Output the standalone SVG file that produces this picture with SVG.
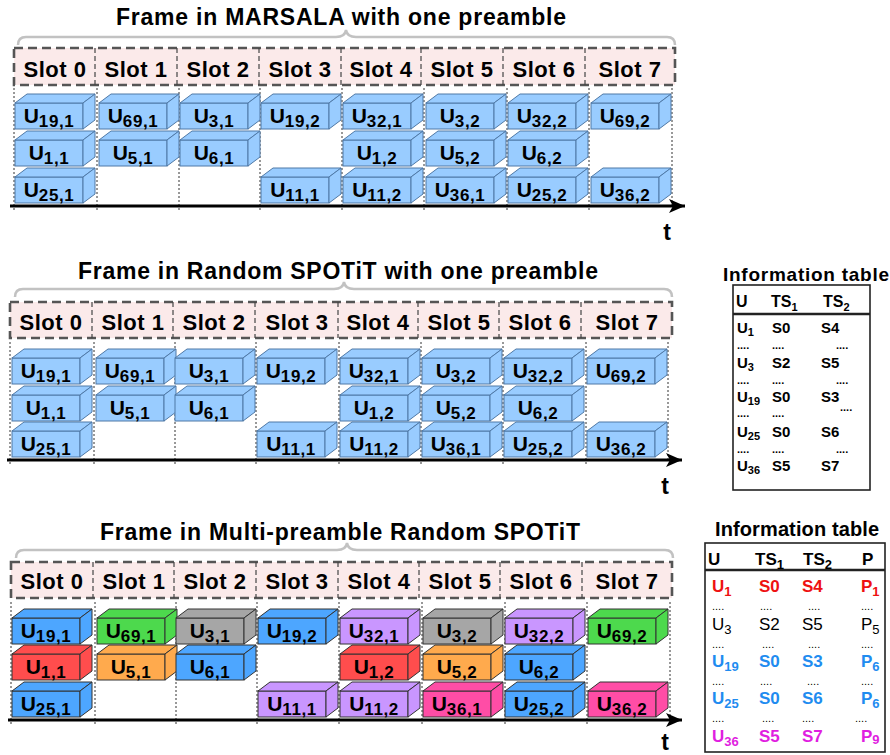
<svg xmlns="http://www.w3.org/2000/svg" xmlns:xlink="http://www.w3.org/1999/xlink" width="890" height="755" viewBox="0 0 890 755">
<style>
text{font-family:"Liberation Sans",Arial,sans-serif;font-weight:bold;fill:#000}
.title{font-size:23px;text-anchor:middle}
.slot{font-size:22px;text-anchor:middle;letter-spacing:0.5px}
.lbl{font-size:21px;text-anchor:middle}
.sb{font-size:17px;letter-spacing:0.6px}
.t{font-size:23px;text-anchor:middle}
.brace{fill:none;stroke:#c2c2c2;stroke-width:2.5}
.hdr{fill:#fbeaea;stroke:#555;stroke-width:2.6;stroke-dasharray:9 5}
.div{stroke:#444;stroke-width:1.2;stroke-dasharray:5 3}
.dot{stroke:#333;stroke-width:1;stroke-dasharray:2 2}
.axis{stroke:#000;stroke-width:3;marker-end:url(#ah)}
.lb{fill:#99ccff;stroke:#4f79a6;stroke-width:1}
.b{fill:#4da6ff;stroke:#333;stroke-width:1}
.g{fill:#4dd94d;stroke:#333;stroke-width:1}
.gr{fill:#a6a6a6;stroke:#333;stroke-width:1}
.r{fill:#ff4d4d;stroke:#333;stroke-width:1}
.o{fill:#ffaa4d;stroke:#333;stroke-width:1}
.p{fill:#c996ff;stroke:#333;stroke-width:1}
.pk{fill:#ff4da6;stroke:#333;stroke-width:1}
.tt{font-size:19px;text-anchor:middle}
.tbox{fill:#fff;stroke:#222;stroke-width:1.6}
.tsep{stroke:#222;stroke-width:2.5}
.t1{font-size:15px}
.t1s{font-size:11px}
.t2{font-size:17px}
.t2s{font-size:13px}
.dots{font-size:11px}
.red{fill:#ee1111}
.blu{fill:#1f8cf0}
.mag{fill:#e01ee0}
.reg{font-weight:normal}
</style>
<defs>
<marker id="ah" markerUnits="userSpaceOnUse" markerWidth="18" markerHeight="16" refX="16" refY="8" orient="auto"><path d="M0,1 L16,8 L0,15 L4,8 z" fill="#000"/></marker>
<g id="cube"><rect x="0" y="0" width="68" height="26"/><polygon points="0,0 12,-9 80,-9 68,0"/><polygon points="68,0 80,-9 80,17 68,26"/></g>
</defs>

<!-- Frame A -->
<g id="frameA">
<text class="title" x="341" y="25" textLength="450" lengthAdjust="spacing">Frame in MARSALA with one preamble</text>
<path class="brace" d="M18,45 Q18,37 26,37 L336,37 Q345,37 346,30 Q347,37 356,37 L667,37 Q675,37 675,45"/>
<rect class="hdr" x="14" y="48" width="661" height="37"/>
<g>
<line class="div" x1="95" y1="48" x2="95" y2="85"/><line class="div" x1="177" y1="48" x2="177" y2="85"/><line class="div" x1="259" y1="48" x2="259" y2="85"/><line class="div" x1="341" y1="48" x2="341" y2="85"/><line class="div" x1="421" y1="48" x2="421" y2="85"/><line class="div" x1="503" y1="48" x2="503" y2="85"/><line class="div" x1="585" y1="48" x2="585" y2="85"/>
</g>
<text class="slot" x="55" y="77">Slot 0</text><text class="slot" x="136" y="77">Slot 1</text><text class="slot" x="218" y="77">Slot 2</text><text class="slot" x="300" y="77">Slot 3</text><text class="slot" x="381" y="77">Slot 4</text><text class="slot" x="462" y="77">Slot 5</text><text class="slot" x="544" y="77">Slot 6</text><text class="slot" x="630" y="77">Slot 7</text>
<g>
<line class="dot" x1="14" y1="88" x2="14" y2="210"/><line class="dot" x1="97" y1="88" x2="97" y2="210"/><line class="dot" x1="179" y1="88" x2="179" y2="210"/><line class="dot" x1="260" y1="88" x2="260" y2="210"/><line class="dot" x1="342" y1="88" x2="342" y2="210"/><line class="dot" x1="424" y1="88" x2="424" y2="210"/><line class="dot" x1="507" y1="88" x2="507" y2="210"/><line class="dot" x1="589" y1="88" x2="589" y2="210"/><line class="dot" x1="672" y1="88" x2="672" y2="206"/>
</g>
</g>
<g id="connectorsA"><line class="axis" x1="10" y1="206" x2="685" y2="206"/></g>
<text class="t" x="667" y="240">t</text>

<g id="a-19-1"><use xlink:href="#cube" href="#cube" class="lb" x="15" y="103"/><text class="lbl" x="49" y="123">U<tspan class="sb" dy="3.5">19,1</tspan></text></g>
<g id="a-69-1"><use xlink:href="#cube" href="#cube" class="lb" x="99" y="103"/><text class="lbl" x="133" y="123">U<tspan class="sb" dy="3.5">69,1</tspan></text></g>
<g id="a-3-1"><use xlink:href="#cube" href="#cube" class="lb" x="180" y="103"/><text class="lbl" x="214" y="123">U<tspan class="sb" dy="3.5">3,1</tspan></text></g>
<g id="a-19-2"><use xlink:href="#cube" href="#cube" class="lb" x="261" y="103"/><text class="lbl" x="295" y="123">U<tspan class="sb" dy="3.5">19,2</tspan></text></g>
<g id="a-32-1"><use xlink:href="#cube" href="#cube" class="lb" x="343" y="103"/><text class="lbl" x="377" y="123">U<tspan class="sb" dy="3.5">32,1</tspan></text></g>
<g id="a-3-2"><use xlink:href="#cube" href="#cube" class="lb" x="426" y="103"/><text class="lbl" x="460" y="123">U<tspan class="sb" dy="3.5">3,2</tspan></text></g>
<g id="a-32-2"><use xlink:href="#cube" href="#cube" class="lb" x="508" y="103"/><text class="lbl" x="542" y="123">U<tspan class="sb" dy="3.5">32,2</tspan></text></g>
<g id="a-69-2"><use xlink:href="#cube" href="#cube" class="lb" x="591" y="103"/><text class="lbl" x="625" y="123">U<tspan class="sb" dy="3.5">69,2</tspan></text></g>
<g id="a-1-1"><use xlink:href="#cube" href="#cube" class="lb" x="15" y="140"/><text class="lbl" x="49" y="160">U<tspan class="sb" dy="3.5">1,1</tspan></text></g>
<g id="a-5-1"><use xlink:href="#cube" href="#cube" class="lb" x="99" y="140"/><text class="lbl" x="133" y="160">U<tspan class="sb" dy="3.5">5,1</tspan></text></g>
<g id="a-6-1"><use xlink:href="#cube" href="#cube" class="lb" x="180" y="140"/><text class="lbl" x="214" y="160">U<tspan class="sb" dy="3.5">6,1</tspan></text></g>
<g id="a-1-2"><use xlink:href="#cube" href="#cube" class="lb" x="343" y="140"/><text class="lbl" x="377" y="160">U<tspan class="sb" dy="3.5">1,2</tspan></text></g>
<g id="a-5-2"><use xlink:href="#cube" href="#cube" class="lb" x="426" y="140"/><text class="lbl" x="460" y="160">U<tspan class="sb" dy="3.5">5,2</tspan></text></g>
<g id="a-6-2"><use xlink:href="#cube" href="#cube" class="lb" x="508" y="140"/><text class="lbl" x="542" y="160">U<tspan class="sb" dy="3.5">6,2</tspan></text></g>
<g id="a-25-1"><use xlink:href="#cube" href="#cube" class="lb" x="15" y="177"/><text class="lbl" x="49" y="197">U<tspan class="sb" dy="3.5">25,1</tspan></text></g>
<g id="a-11-1"><use xlink:href="#cube" href="#cube" class="lb" x="261" y="177"/><text class="lbl" x="295" y="197">U<tspan class="sb" dy="3.5">11,1</tspan></text></g>
<g id="a-11-2"><use xlink:href="#cube" href="#cube" class="lb" x="343" y="177"/><text class="lbl" x="377" y="197">U<tspan class="sb" dy="3.5">11,2</tspan></text></g>
<g id="a-36-1"><use xlink:href="#cube" href="#cube" class="lb" x="426" y="177"/><text class="lbl" x="460" y="197">U<tspan class="sb" dy="3.5">36,1</tspan></text></g>
<g id="a-25-2"><use xlink:href="#cube" href="#cube" class="lb" x="508" y="177"/><text class="lbl" x="542" y="197">U<tspan class="sb" dy="3.5">25,2</tspan></text></g>
<g id="a-36-2"><use xlink:href="#cube" href="#cube" class="lb" x="591" y="177"/><text class="lbl" x="625" y="197">U<tspan class="sb" dy="3.5">36,2</tspan></text></g>

<!-- Frame B -->
<g id="frameB">
<text class="title" x="338" y="279" textLength="520" lengthAdjust="spacing">Frame in Random SPOTiT with one preamble</text>
<path class="brace" d="M15,297 Q15,289 23,289 L334,289 Q343,289 344,282 Q345,289 354,289 L664,289 Q672,289 672,297"/>
<rect class="hdr" x="10" y="302" width="662" height="36"/>
<g>
<line class="div" x1="92" y1="302" x2="92" y2="338"/><line class="div" x1="173" y1="302" x2="173" y2="338"/><line class="div" x1="255" y1="302" x2="255" y2="338"/><line class="div" x1="338" y1="302" x2="338" y2="338"/><line class="div" x1="418" y1="302" x2="418" y2="338"/><line class="div" x1="499" y1="302" x2="499" y2="338"/><line class="div" x1="581" y1="302" x2="581" y2="338"/>
</g>
<text class="slot" x="51" y="330">Slot 0</text><text class="slot" x="133" y="330">Slot 1</text><text class="slot" x="214" y="330">Slot 2</text><text class="slot" x="297" y="330">Slot 3</text><text class="slot" x="378" y="330">Slot 4</text><text class="slot" x="459" y="330">Slot 5</text><text class="slot" x="540" y="330">Slot 6</text><text class="slot" x="627" y="330">Slot 7</text>
<g>
<line class="dot" x1="10" y1="342" x2="10" y2="464"/><line class="dot" x1="94" y1="342" x2="94" y2="464"/><line class="dot" x1="175" y1="342" x2="175" y2="464"/><line class="dot" x1="256" y1="342" x2="256" y2="464"/><line class="dot" x1="339" y1="342" x2="339" y2="464"/><line class="dot" x1="421" y1="342" x2="421" y2="464"/><line class="dot" x1="503" y1="342" x2="503" y2="464"/><line class="dot" x1="586" y1="342" x2="586" y2="464"/><line class="dot" x1="668" y1="342" x2="668" y2="460"/>
</g>
</g>
<g id="connectorsB"><line class="axis" x1="7" y1="460" x2="682" y2="460"/></g>
<text class="t" x="665" y="494">t</text>

<g id="b-19-1"><use xlink:href="#cube" href="#cube" class="lb" x="12" y="358"/><text class="lbl" x="46" y="378">U<tspan class="sb" dy="3.5">19,1</tspan></text></g>
<g id="b-69-1"><use xlink:href="#cube" href="#cube" class="lb" x="96" y="358"/><text class="lbl" x="130" y="378">U<tspan class="sb" dy="3.5">69,1</tspan></text></g>
<g id="b-3-1"><use xlink:href="#cube" href="#cube" class="lb" x="175" y="358"/><text class="lbl" x="209" y="378">U<tspan class="sb" dy="3.5">3,1</tspan></text></g>
<g id="b-19-2"><use xlink:href="#cube" href="#cube" class="lb" x="257" y="358"/><text class="lbl" x="291" y="378">U<tspan class="sb" dy="3.5">19,2</tspan></text></g>
<g id="b-32-1"><use xlink:href="#cube" href="#cube" class="lb" x="340" y="358"/><text class="lbl" x="374" y="378">U<tspan class="sb" dy="3.5">32,1</tspan></text></g>
<g id="b-3-2"><use xlink:href="#cube" href="#cube" class="lb" x="422" y="358"/><text class="lbl" x="456" y="378">U<tspan class="sb" dy="3.5">3,2</tspan></text></g>
<g id="b-32-2"><use xlink:href="#cube" href="#cube" class="lb" x="504" y="358"/><text class="lbl" x="538" y="378">U<tspan class="sb" dy="3.5">32,2</tspan></text></g>
<g id="b-69-2"><use xlink:href="#cube" href="#cube" class="lb" x="587" y="358"/><text class="lbl" x="621" y="378">U<tspan class="sb" dy="3.5">69,2</tspan></text></g>
<g id="b-1-1"><use xlink:href="#cube" href="#cube" class="lb" x="12" y="395"/><text class="lbl" x="46" y="415">U<tspan class="sb" dy="3.5">1,1</tspan></text></g>
<g id="b-5-1"><use xlink:href="#cube" href="#cube" class="lb" x="96" y="395"/><text class="lbl" x="130" y="415">U<tspan class="sb" dy="3.5">5,1</tspan></text></g>
<g id="b-6-1"><use xlink:href="#cube" href="#cube" class="lb" x="175" y="395"/><text class="lbl" x="209" y="415">U<tspan class="sb" dy="3.5">6,1</tspan></text></g>
<g id="b-1-2"><use xlink:href="#cube" href="#cube" class="lb" x="340" y="395"/><text class="lbl" x="374" y="415">U<tspan class="sb" dy="3.5">1,2</tspan></text></g>
<g id="b-5-2"><use xlink:href="#cube" href="#cube" class="lb" x="422" y="395"/><text class="lbl" x="456" y="415">U<tspan class="sb" dy="3.5">5,2</tspan></text></g>
<g id="b-6-2"><use xlink:href="#cube" href="#cube" class="lb" x="504" y="395"/><text class="lbl" x="538" y="415">U<tspan class="sb" dy="3.5">6,2</tspan></text></g>
<g id="b-25-1"><use xlink:href="#cube" href="#cube" class="lb" x="12" y="431"/><text class="lbl" x="46" y="451">U<tspan class="sb" dy="3.5">25,1</tspan></text></g>
<g id="b-11-1"><use xlink:href="#cube" href="#cube" class="lb" x="257" y="431"/><text class="lbl" x="291" y="451">U<tspan class="sb" dy="3.5">11,1</tspan></text></g>
<g id="b-11-2"><use xlink:href="#cube" href="#cube" class="lb" x="340" y="431"/><text class="lbl" x="374" y="451">U<tspan class="sb" dy="3.5">11,2</tspan></text></g>
<g id="b-36-1"><use xlink:href="#cube" href="#cube" class="lb" x="422" y="431"/><text class="lbl" x="456" y="451">U<tspan class="sb" dy="3.5">36,1</tspan></text></g>
<g id="b-25-2"><use xlink:href="#cube" href="#cube" class="lb" x="504" y="431"/><text class="lbl" x="538" y="451">U<tspan class="sb" dy="3.5">25,2</tspan></text></g>
<g id="b-36-2"><use xlink:href="#cube" href="#cube" class="lb" x="587" y="431"/><text class="lbl" x="621" y="451">U<tspan class="sb" dy="3.5">36,2</tspan></text></g>

<!-- Frame C -->
<g id="frameC">
<text class="title" x="340" y="540" textLength="480" lengthAdjust="spacing">Frame in Multi-preamble Random SPOTiT</text>
<path class="brace" d="M16,558 Q16,550 24,550 L337,550 Q346,550 347,543 Q348,550 357,550 L665,550 Q673,550 673,558"/>
<rect class="hdr" x="11" y="562" width="661" height="36"/>
<g>
<line class="div" x1="93" y1="562" x2="93" y2="598"/><line class="div" x1="174" y1="562" x2="174" y2="598"/><line class="div" x1="256" y1="562" x2="256" y2="598"/><line class="div" x1="338" y1="562" x2="338" y2="598"/><line class="div" x1="419" y1="562" x2="419" y2="598"/><line class="div" x1="500" y1="562" x2="500" y2="598"/><line class="div" x1="582" y1="562" x2="582" y2="598"/>
</g>
<text class="slot" x="52" y="589">Slot 0</text><text class="slot" x="134" y="589">Slot 1</text><text class="slot" x="215" y="589">Slot 2</text><text class="slot" x="297" y="589">Slot 3</text><text class="slot" x="379" y="589">Slot 4</text><text class="slot" x="460" y="589">Slot 5</text><text class="slot" x="541" y="589">Slot 6</text><text class="slot" x="627" y="589">Slot 7</text>
<g>
<line class="dot" x1="11" y1="602" x2="11" y2="724"/><line class="dot" x1="95" y1="602" x2="95" y2="724"/><line class="dot" x1="176" y1="602" x2="176" y2="724"/><line class="dot" x1="257" y1="602" x2="257" y2="724"/><line class="dot" x1="339" y1="602" x2="339" y2="724"/><line class="dot" x1="422" y1="602" x2="422" y2="724"/><line class="dot" x1="505" y1="602" x2="505" y2="724"/><line class="dot" x1="587" y1="602" x2="587" y2="724"/><line class="dot" x1="670" y1="602" x2="670" y2="720"/>
</g>
</g>
<g id="connectorsC"><line class="axis" x1="8" y1="720" x2="682" y2="720"/></g>
<text class="t" x="665" y="750">t</text>

<g id="c-19-1"><use xlink:href="#cube" href="#cube" class="b" x="12" y="618"/><text class="lbl" x="46" y="638">U<tspan class="sb" dy="3.5">19,1</tspan></text></g>
<g id="c-69-1"><use xlink:href="#cube" href="#cube" class="g" x="97" y="618"/><text class="lbl" x="131" y="638">U<tspan class="sb" dy="3.5">69,1</tspan></text></g>
<g id="c-3-1"><use xlink:href="#cube" href="#cube" class="gr" x="176" y="618"/><text class="lbl" x="210" y="638">U<tspan class="sb" dy="3.5">3,1</tspan></text></g>
<g id="c-19-2"><use xlink:href="#cube" href="#cube" class="b" x="258" y="618"/><text class="lbl" x="292" y="638">U<tspan class="sb" dy="3.5">19,2</tspan></text></g>
<g id="c-32-1"><use xlink:href="#cube" href="#cube" class="p" x="340" y="618"/><text class="lbl" x="374" y="638">U<tspan class="sb" dy="3.5">32,1</tspan></text></g>
<g id="c-3-2"><use xlink:href="#cube" href="#cube" class="gr" x="423" y="618"/><text class="lbl" x="457" y="638">U<tspan class="sb" dy="3.5">3,2</tspan></text></g>
<g id="c-32-2"><use xlink:href="#cube" href="#cube" class="p" x="505" y="618"/><text class="lbl" x="539" y="638">U<tspan class="sb" dy="3.5">32,2</tspan></text></g>
<g id="c-69-2"><use xlink:href="#cube" href="#cube" class="g" x="588" y="618"/><text class="lbl" x="622" y="638">U<tspan class="sb" dy="3.5">69,2</tspan></text></g>
<g id="c-1-1"><use xlink:href="#cube" href="#cube" class="r" x="12" y="654"/><text class="lbl" x="46" y="674">U<tspan class="sb" dy="3.5">1,1</tspan></text></g>
<g id="c-5-1"><use xlink:href="#cube" href="#cube" class="o" x="97" y="654"/><text class="lbl" x="131" y="674">U<tspan class="sb" dy="3.5">5,1</tspan></text></g>
<g id="c-6-1"><use xlink:href="#cube" href="#cube" class="b" x="176" y="654"/><text class="lbl" x="210" y="674">U<tspan class="sb" dy="3.5">6,1</tspan></text></g>
<g id="c-1-2"><use xlink:href="#cube" href="#cube" class="r" x="340" y="654"/><text class="lbl" x="374" y="674">U<tspan class="sb" dy="3.5">1,2</tspan></text></g>
<g id="c-5-2"><use xlink:href="#cube" href="#cube" class="o" x="423" y="654"/><text class="lbl" x="457" y="674">U<tspan class="sb" dy="3.5">5,2</tspan></text></g>
<g id="c-6-2"><use xlink:href="#cube" href="#cube" class="b" x="505" y="654"/><text class="lbl" x="539" y="674">U<tspan class="sb" dy="3.5">6,2</tspan></text></g>
<g id="c-25-1"><use xlink:href="#cube" href="#cube" class="b" x="12" y="691"/><text class="lbl" x="46" y="711">U<tspan class="sb" dy="3.5">25,1</tspan></text></g>
<g id="c-11-1"><use xlink:href="#cube" href="#cube" class="p" x="258" y="691"/><text class="lbl" x="292" y="711">U<tspan class="sb" dy="3.5">11,1</tspan></text></g>
<g id="c-11-2"><use xlink:href="#cube" href="#cube" class="p" x="340" y="691"/><text class="lbl" x="374" y="711">U<tspan class="sb" dy="3.5">11,2</tspan></text></g>
<g id="c-36-1"><use xlink:href="#cube" href="#cube" class="pk" x="423" y="691"/><text class="lbl" x="457" y="711">U<tspan class="sb" dy="3.5">36,1</tspan></text></g>
<g id="c-25-2"><use xlink:href="#cube" href="#cube" class="b" x="505" y="691"/><text class="lbl" x="539" y="711">U<tspan class="sb" dy="3.5">25,2</tspan></text></g>
<g id="c-36-2"><use xlink:href="#cube" href="#cube" class="pk" x="588" y="691"/><text class="lbl" x="622" y="711">U<tspan class="sb" dy="3.5">36,2</tspan></text></g>

<!-- Table 1 -->
<g id="table1">
<text class="tt" x="806" y="281" textLength="166" lengthAdjust="spacing">Information table</text>
<rect class="tbox" x="733" y="285" width="137" height="205"/>
<line class="tsep" x1="733" y1="314" x2="870" y2="314"/>
<text class="t1" x="736" y="307" style="font-size:16px">U</text>
<text class="t1" x="771" y="307" style="font-size:16px">TS<tspan class="t1s" dy="4">1</tspan></text>
<text class="t1" x="823" y="307" style="font-size:16px">TS<tspan class="t1s" dy="4">2</tspan></text>
<text class="t1" x="737" y="333">U<tspan class="t1s" dy="3">1</tspan></text><text class="t1" x="772" y="333">S0</text><text class="t1" x="821" y="333">S4</text>
<text class="dots" x="737" y="349">....</text><text class="dots" x="772" y="349">....</text><text class="dots" x="836" y="349">....</text>
<text class="t1" x="737" y="368">U<tspan class="t1s" dy="3">3</tspan></text><text class="t1" x="772" y="368">S2</text><text class="t1" x="821" y="368">S5</text>
<text class="dots" x="737" y="384">....</text><text class="dots" x="772" y="384">....</text><text class="dots" x="836" y="384">....</text>
<text class="t1" x="737" y="402">U<tspan class="t1s" dy="3">19</tspan></text><text class="t1" x="772" y="402">S0</text><text class="t1" x="821" y="402">S3</text>
<text class="dots" x="737" y="417">....</text><text class="dots" x="772" y="417">....</text><text class="dots" x="840" y="411">....</text>
<text class="t1" x="737" y="437">U<tspan class="t1s" dy="3">25</tspan></text><text class="t1" x="772" y="437">S0</text><text class="t1" x="821" y="437">S6</text>
<text class="dots" x="737" y="453">....</text><text class="dots" x="772" y="453">....</text><text class="dots" x="836" y="453">....</text>
<text class="t1" x="737" y="471">U<tspan class="t1s" dy="3">36</tspan></text><text class="t1" x="772" y="471">S5</text><text class="t1" x="821" y="471">S7</text>
</g>

<!-- Table 2 -->
<g id="table2">
<text class="tt" x="797" y="536" textLength="164" lengthAdjust="spacing" style="font-size:20px">Information table</text>
<rect class="tbox" x="705" y="543" width="180" height="209"/>
<line class="tsep" x1="705" y1="570" x2="885" y2="570"/>
<text class="t2" x="708" y="565">U</text>
<text class="t2" x="755" y="565">TS<tspan class="t2s" dy="4">1</tspan></text>
<text class="t2" x="803" y="565">TS<tspan class="t2s" dy="4">2</tspan></text>
<text class="t2" x="862" y="565">P</text>
<text class="t2 red" x="712" y="592">U<tspan class="t2s red" dy="4">1</tspan></text><text class="t2 red" x="759" y="592">S0</text><text class="t2 red" x="802" y="592">S4</text><text class="t2 red" x="861" y="592">P<tspan class="t2s red" dy="4">1</tspan></text>
<text class="dots reg" x="712" y="610">....</text><text class="dots reg" x="760" y="610">....</text><text class="dots reg" x="808" y="610">....</text><text class="dots reg" x="861" y="610">....</text>
<text class="t2 reg" x="712" y="630">U<tspan class="t2s" dy="4">3</tspan></text><text class="t2 reg" x="759" y="630">S2</text><text class="t2 reg" x="802" y="630">S5</text><text class="t2 reg" x="861" y="630">P<tspan class="t2s" dy="4">5</tspan></text>
<text class="dots reg" x="712" y="648">....</text><text class="dots reg" x="762" y="648">....</text><text class="dots reg" x="808" y="648">....</text><text class="dots reg" x="861" y="648">....</text>
<text class="t2 blu" x="712" y="667">U<tspan class="t2s blu" dy="4">19</tspan></text><text class="t2 blu" x="759" y="667">S0</text><text class="t2 blu" x="802" y="667">S3</text><text class="t2 blu" x="861" y="667">P<tspan class="t2s blu" dy="4">6</tspan></text>
<text class="dots reg" x="712" y="685">....</text><text class="dots reg" x="760" y="685">....</text><text class="dots reg" x="807" y="685">....</text><text class="dots reg" x="861" y="685">....</text>
<text class="t2 blu" x="712" y="704">U<tspan class="t2s blu" dy="4">25</tspan></text><text class="t2 blu" x="759" y="704">S0</text><text class="t2 blu" x="802" y="704">S6</text><text class="t2 blu" x="861" y="704">P<tspan class="t2s blu" dy="4">6</tspan></text>
<text class="dots reg" x="712" y="722">....</text><text class="dots reg" x="762" y="722">....</text><text class="dots reg" x="802" y="722">....</text><text class="dots reg" x="855" y="722">....</text>
<text class="t2 mag" x="712" y="742">U<tspan class="t2s mag" dy="4">36</tspan></text><text class="t2 mag" x="759" y="742">S5</text><text class="t2 mag" x="802" y="742">S7</text><text class="t2 mag" x="861" y="742">P<tspan class="t2s mag" dy="2">9</tspan></text>
</g>
</svg>
